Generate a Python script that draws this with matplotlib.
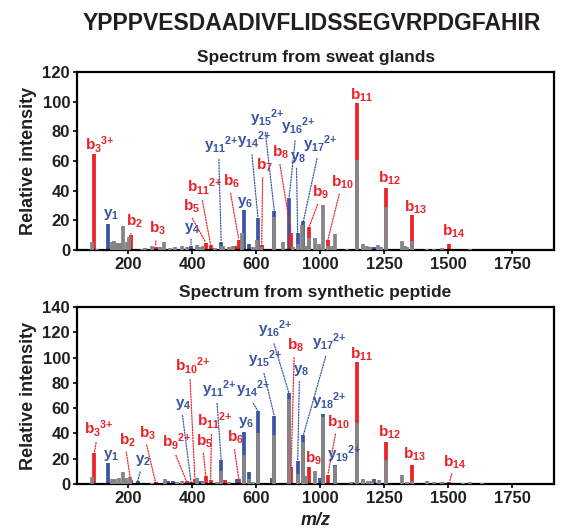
import numpy as np
import matplotlib
matplotlib.use('Agg')
import matplotlib.pyplot as plt

plt.rcParams['font.family'] = ['Liberation Sans', 'DejaVu Sans']
plt.rcParams['font.weight'] = 'bold'
plt.rcParams['mathtext.fontset'] = 'custom'
plt.rcParams['mathtext.rm'] = 'Liberation Sans:bold'
plt.rcParams['mathtext.it'] = 'Liberation Sans:bold'
plt.rcParams['mathtext.bf'] = 'Liberation Sans:bold'

RED = '#ec2227'
BLUE = '#3a55a4'
GRAY = '#858587'
INK = '#231f20'

peptide = 'YPPPVESDAADIVFLIDSSEGVRPDGFAHIR'
panel_titles = ['Spectrum from sweat glands', 'Spectrum from synthetic peptide']

# ---- sweat glands: unassigned peaks (also drawn over the lower part of matched peaks)
top_gray_mz = [87, 102, 149, 157, 165, 175, 185, 196, 204, 243, 253, 274, 300, 313,
               331, 347, 368, 383, 415, 425, 435, 472, 491, 498, 514, 529, 555, 592,
               607, 633, 714, 767, 833, 864, 890, 912, 931, 969, 996, 1010, 1030,
               1046, 1059, 1104, 1143, 1169, 1182, 1195, 1228, 1237, 1258, 1319,
               1332, 1341, 1358, 1417, 1443, 1475, 1586]
top_gray_int = [5.4, 1, 5.6, 6, 5, 5, 16, 5.5, 9, 1, 1.5, 2.5, 2, 5.5,
                1.5, 2, 2.5, 2, 3.5, 2, 2.5, 1.5, 3, 3, 2, 2.5, 11.7, 2,
                6.5, 2, 22.5, 5.5, 2, 4, 17, 3, 8, 8, 4, 30.3, 3,
                2.5, 10.8, 1, 60.7, 4, 2.5, 2, 3.5, 2, 29.2, 6,
                3, 2, 6, 1, 1, 1.5, 1]
# matched ions: (ion, index, charge, m/z, intensity)
top_ions = [('b', '3', '3+', 95, 64.7), ('y', '1', '', 139, 17.3), ('b', '2', '', 208, 10.4),
            ('b', '3', '', 286, 2), ('y', '4', '', 397, 3), ('b', '5', '', 443, 5),
            ('b', '11', '2+', 458, 3.5), ('y', '11', '2+', 491, 5.4), ('b', '6', '', 546, 7),
            ('y', '6', '', 562, 27), ('y', '14', '2+', 612, 21.3), ('b', '7', '', 635, 3.4),
            ('y', '15', '2+', 714, 26.3), ('y', '16', '2+', 806, 34.8), ('b', '8', '', 819, 11.7),
            ('y', '8', '', 860, 11.6), ('y', '17', '2+', 896, 19.5), ('b', '9', '', 932, 15.7),
            ('b', '10', '', 1030, 6.5), ('b', '11', '', 1143, 99), ('b', '12', '', 1258, 41.6),
            ('b', '13', '', 1358, 23.6), ('b', '14', '', 1505, 4)]
top_extra_blue_mz = [578, 1211]
top_extra_blue_int = [4, 2]
top_extra_red_mz = [537]
top_extra_red_int = [3]

# ---- synthetic peptide
bot_gray_mz = [87, 150, 160, 171, 185, 194, 206, 274, 314, 352, 368, 417, 435, 477,
               491, 514, 562, 578, 592, 612, 714, 806, 860, 896, 912, 969, 1010,
               1058, 1120, 1143, 1169, 1188, 1201, 1232, 1258, 1319, 1341, 1358,
               1417, 1443, 1475, 1560, 1586, 1632]
bot_gray_int = [5.3, 4, 4, 4.5, 9.8, 4.5, 5.5, 1, 4, 1.5, 2, 5, 2, 1.5,
                10, 1.5, 23, 4, 1.5, 40, 39, 67, 8, 33, 6, 10, 53,
                14, 1.5, 48, 4, 2, 2.5, 3, 19, 7.5, 1.5, 2.5,
                2, 1.5, 1.5, 1, 1.5, 1]
bot_ions = [('b', '3', '3+', 95, 24.8), ('y', '1', '', 139, 16.9), ('b', '2', '', 208, 3),
            ('y', '2', '', 230, 2), ('b', '3', '', 286, 1.5), ('b', '9', '2+', 383, 2),
            ('y', '4', '', 397, 1.5), ('b', '10', '2+', 409, 4), ('y', '11', '2+', 491, 19),
            ('b', '11', '2+', 458, 3.5), ('b', '5', '', 443, 6), ('b', '6', '', 546, 4),
            ('y', '6', '', 562, 40.9), ('y', '14', '2+', 612, 57.7), ('y', '15', '2+', 714, 53.8),
            ('y', '16', '2+', 806, 71.7), ('b', '8', '', 819, 13.6), ('y', '8', '', 860, 18.2),
            ('y', '17', '2+', 896, 38.8), ('y', '18', '2+', 1010, 55), ('b', '9', '', 932, 13.7),
            ('b', '10', '', 1030, 7), ('y', '19', '2+', 1058, 15), ('b', '11', '', 1143, 96.8),
            ('b', '12', '', 1258, 33), ('b', '13', '', 1358, 15), ('b', '14', '', 1505, 1.5)]
bot_extra_blue_mz = [324, 342, 425, 540, 578, 702, 1000, 1211]
bot_extra_blue_int = [2, 2.5, 2, 4, 9.5, 5, 5, 4]
bot_extra_red_mz = [503, 1124, 1332]
bot_extra_red_int = [3, 1.5, 1]

# label placement: offset of label (left, baseline) from the peak top in pixels, and leader line
top_offsets = [(-9, 4, 0), (-5, 7, 0), (-5, 9, 1), (-6.5, 14, 1), (-7, 15, 1), (-23, 32, 1),
               (-24, 53, 1), (-17, 92, 1), (-16, 54, 1), (-7, 5, 0), (-21, 73, 1), (-6, 75, 1),
               (-24, 88, 1), (-8, 67, 1), (-19, 76, 1), (-8, 73, 1), (0, 72, 1), (3, 30, 1),
               (3, 54, 1), (-7, 4, 0), (-8, 5.6, 0), (-8, 3.3, 0), (-7, 8, 0)]
bot_offsets = [(-10, 19, 1), (-5, 5, 0), (-12, 36, 1), (-3, 18, 1), (-17, 45, 1), (-25, 35, 1),
               (-16, 75, 1), (-20, 108, 1), (-19, 66, 1), (-14, 54, 1), (-10, 31, 1), (-12, 37, 1),
               (-6, 7, 0), (-22, 17, 1), (-26, 52, 1), (-31, 59, 1), (-4, 117, 1), (-5, 88, 1),
               (9, 88, 1), (-11, 8, 0), (-4, 4, 0), (-1, 49, 1), (-8, 6, 0), (-7, 3.4, 0),
               (-8, 5.6, 0), (-9, 6.7, 0), (-6, 16, 1)]

# the m/z axis of the original is not linear: equal spacing between these ticks
xticks = [200, 400, 600, 1000, 1250, 1500, 1750]
knots_mz = [-1000, 0, 200, 400, 600, 1000, 1250, 1500, 1750, 5000]
knots_u = [-5, 0, 1, 2, 3, 4, 5, 6, 7, 20]


def fwd(x):
    return np.interp(x, knots_mz, knots_u)


def inv(u):
    return np.interp(u, knots_u, knots_mz)


def draw_panel(ax, gray_mz, gray_int, ions, blue_mz, blue_int, red_mz, red_int,
               offsets, ymax, title):
    '''
    Draw one annotated MS/MS spectrum.
    '''
    ax.set_xscale('function', functions=(fwd, inv))
    lw = 2.7
    ion_col = [RED if i[0] == 'b' else BLUE for i in ions]
    ax.vlines([i[3] for i in ions], 0, [i[4] for i in ions], colors=ion_col,
              lw=lw, capstyle='butt', zorder=2)
    ax.vlines(blue_mz, 0, blue_int, colors=BLUE, lw=lw, capstyle='butt', zorder=2)
    ax.vlines(red_mz, 0, red_int, colors=RED, lw=lw, capstyle='butt', zorder=2)
    ax.vlines(gray_mz, 0, gray_int, colors=GRAY, lw=lw, capstyle='butt', zorder=3)

    for (ion, idx, chg, mz, h), col, (dx, dy, line) in zip(ions, ion_col, offsets):
        if chg:
            label = r'$%s_{%s}{}^{\text{%s}}$' % (ion, idx, chg)
        else:
            label = r'$%s_{%s}$' % (ion, idx)
        arrow = None
        if line:
            arrow = dict(arrowstyle='-', linestyle=(0, (1, 1.2)), lw=0.9, color=col,
                         shrinkA=0.5, shrinkB=0.5, relpos=(0.42, 0.05))
        ax.annotate(label, xy=(mz, h), xytext=(dx * 0.72, dy * 0.72),
                    textcoords='offset points', ha='left', va='baseline',
                    color=col, fontsize=11, arrowprops=arrow, zorder=4)

    ax.set_xlim(40.6, 1914)
    ax.set_ylim(0, ymax)
    ax.set_xticks(xticks)
    ax.set_xticklabels([str(t) for t in xticks])
    ax.set_yticks(np.arange(0, ymax + 1, 20))
    ax.tick_params(direction='out', length=3, width=1.2, labelsize=12,
                   colors='black', labelcolor=INK, pad=2)
    for s in ax.spines.values():
        s.set_linewidth(1.6)
    ax.set_ylabel('Relative intensity', fontsize=13, fontweight='bold', color=INK, labelpad=4)
    ax.set_title(title, fontsize=12.5, fontweight='bold', color=INK, pad=7)


if __name__ == '__main__':
    fig = plt.figure(figsize=(5.62, 5.31), dpi=100)
    ax1 = fig.add_axes([0.137, 0.5292, 0.849, 0.3352])
    ax2 = fig.add_axes([0.137, 0.0885, 0.849, 0.3333])

    draw_panel(ax1, top_gray_mz, top_gray_int, top_ions, top_extra_blue_mz,
               top_extra_blue_int, top_extra_red_mz, top_extra_red_int,
               top_offsets, 120, panel_titles[0])
    draw_panel(ax2, bot_gray_mz, bot_gray_int, bot_ions, bot_extra_blue_mz,
               bot_extra_blue_int, bot_extra_red_mz, bot_extra_red_int,
               bot_offsets, 140, panel_titles[1])
    ax2.set_xlabel('m/z', fontsize=13, fontweight='bold', style='italic', color=INK, labelpad=4)

    fig.text(0.555, 0.956, peptide, ha='center', va='center', fontsize=16.5,
             fontweight='bold', color=INK)
    fig.savefig('out.png', dpi=100)
